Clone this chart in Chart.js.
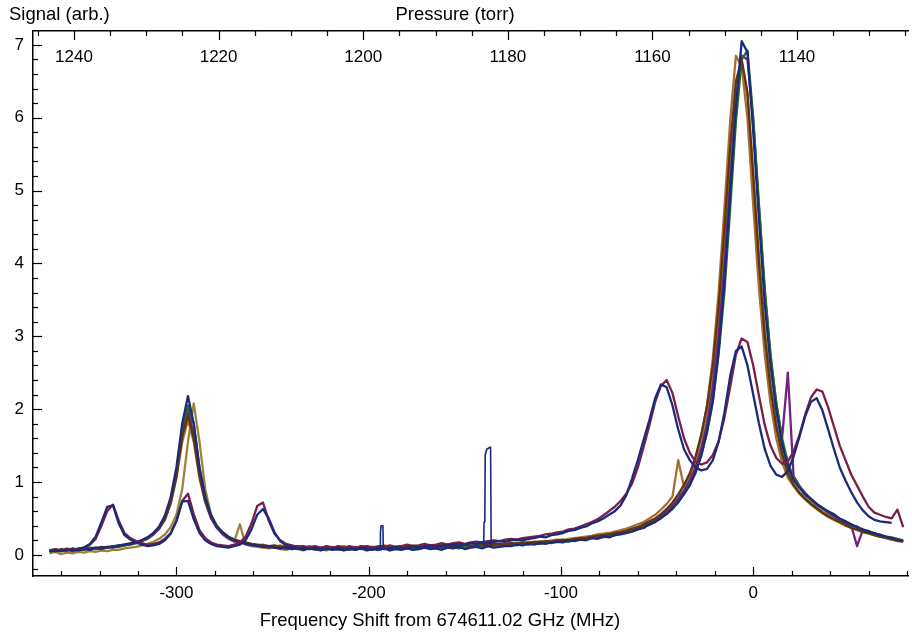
<!DOCTYPE html>
<html>
<head>
<meta charset="utf-8">
<script src="https://cdn.jsdelivr.net/npm/chart.js@4.4.1/dist/chart.umd.min.js"></script>
<style>
html, body { margin: 0; padding: 0; background: #fff; }
#caixa { width: 912px; height: 639px; }
</style>
</head>
<body>
<div id="caixa"><canvas id="grafEsp" width="912" height="639"></canvas></div>
<script>
// frequency grid (MHz from 674611.02 GHz)
const freq = [
  -366,-363,-360,-357,-354,-351,-348,-345,-342,-339,
  -336,-333,-330,-327,-324,-321,-318,-315,-312,-309,
  -306,-303,-300,-297,-294,-291,-288,-285,-282,-279,
  -276,-273,-270,-267,-264,-261,-258,-255,-252,-249,
  -246,-243,-240,-237,-234,-231,-228,-225,-222,-219,
  -216,-213,-210,-207,-204,-201,-198,-195,-192,-189,
  -186,-183,-180,-177,-174,-171,-168,-165,-162,-159,
  -156,-153,-150,-147,-144,-141,-138,-135,-132,-129,
  -126,-123,-120,-117,-114,-111,-108,-105,-102,-99,
  -96,-93,-90,-87,-84,-81,-78,-75,-72,-69,
  -66,-63,-60,-57,-54,-51,-48,-45,-42,-39,
  -36,-33,-30,-27,-24,-21,-18,-15,-12,-9,
  -6,-3,0,3,6,9,12,15,18,21,
  24,27,30,33,36,39,42,45,48,51,
  54,57,60,63,66,69,72,75,78
];

const navyA = [
  .05,.06,.05,.07,.06,.08,.10,.15,.25,.45,
  .66,.68,.43,.27,.21,.17,.14,.12,.13,.15,
  .20,.29,.47,.73,.74,.49,.30,.20,.15,.12,
  .11,.10,.12,.14,.20,.35,.55,.63,.50,.31,
  .19,.13,.11,.09,.10,.08,.10,.07,.09,.08,
  .10,.07,.09,.08,.10,.09,.07,.10,.08,.09,
  .11,.09,.10,.12,.10,.11,.13,.11,.12,.14,
  .13,.15,.14,.16,.15,.17,.16,.18,.19,.18,
  .20,.21,.20,.22,.23,.25,.24,.27,.28,.30,
  .33,.34,.37,.39,.43,.46,.50,.55,.60,.68,
  .82,1.05,1.30,1.58,1.85,2.15,2.34,2.30,2.05,1.72,
  1.45,1.30,1.20,1.16,1.18,1.30,1.55,1.95,2.45,2.80,
  2.86,2.60,2.20,1.80,1.45,1.22,1.10,1.07,1.15,1.35,
  1.62,1.90,2.10,2.15,1.98,1.72,1.45,1.20,1.02,.86,
  .72,.61,.53,.48,.46,.45,.44,null,null
];

const maroonA = [
  .06,.08,.06,.08,.07,.09,.10,.14,.22,.40,
  .60,.69,.47,.30,.23,.19,.16,.14,.15,.17,
  .22,.30,.46,.74,.84,.56,.34,.23,.17,.14,
  .13,.12,.14,.17,.25,.43,.67,.72,.47,.29,
  .20,.15,.13,.11,.12,.10,.11,.09,.12,.10,
  .11,.09,.12,.10,.11,.12,.10,.12,.11,.13,
  .11,.12,.14,.12,.13,.15,.13,.14,.16,.14,
  .16,.17,.15,.17,.18,.17,.19,.20,.19,.21,
  .22,.21,.23,.24,.25,.26,.28,.29,.31,.32,
  .35,.36,.39,.42,.45,.49,.54,.60,.66,.74,
  .84,.98,1.20,1.48,1.78,2.10,2.32,2.40,2.22,1.90,
  1.60,1.40,1.28,1.24,1.27,1.37,1.56,1.88,2.30,2.75,
  2.97,2.92,2.60,2.18,1.78,1.50,1.33,1.25,1.28,1.42,
  1.64,1.92,2.16,2.27,2.24,2.02,1.76,1.50,1.30,1.10,
  .95,.80,.66,.58,.55,.52,.50,.62,.38
];

const navyB = [
  .06,.05,.07,.06,.08,.06,.09,.07,.10,.09,
  .11,.10,.13,.14,.15,.17,.20,.24,.30,.39,
  .54,.79,1.20,1.80,2.18,1.80,1.20,.79,.54,.39,
  .30,.24,.20,.17,.15,.14,.13,.11,.12,.10,
  .09,.10,.08,.09,.07,.09,.08,.06,.09,.07,
  .08,.06,.08,.07,.09,.06,.08,.07,.09,.06,
  .08,.07,.09,.07,.08,.10,.08,.09,.07,.10,
  .09,.11,.08,.10,.11,.09,.12,.10,.11,.12,
  .12,.14,.13,.15,.14,.16,.15,.17,.18,.17,
  .20,.19,.21,.20,.23,.22,.25,.24,.27,.28,
  .30,.32,.35,.37,.42,.45,.51,.56,.64,.72,
  .84,.95,1.14,1.36,1.70,2.12,2.80,3.75,4.95,6.15,
  7.05,6.90,5.80,4.60,3.45,2.60,1.98,1.52,1.22,1.03,
  .92,.83,.77,.70,.64,.60,.55,.50,.46,.42,
  .38,.35,.32,.30,.27,.25,.23,.21,.19
];

const greenB = [
  .04,.06,.05,.07,.06,.08,.07,.09,.08,.10,
  .10,.11,.12,.13,.15,.16,.19,.23,.29,.38,
  .52,.75,1.15,1.72,2.05,1.80,1.18,.80,.55,.40,
  .31,.25,.21,.18,.16,.14,.13,.11,.12,.10,
  .11,.08,.10,.09,.11,.08,.10,.09,.07,.10,
  .08,.09,.07,.10,.08,.11,.08,.09,.10,.08,
  .10,.09,.11,.08,.10,.12,.09,.11,.10,.12,
  .11,.09,.12,.11,.13,.10,.12,.14,.12,.13,
  .15,.13,.15,.14,.16,.15,.17,.16,.18,.19,
  .18,.20,.22,.21,.23,.24,.24,.26,.27,.29,
  .31,.33,.35,.39,.41,.46,.50,.57,.63,.73,
  .83,.97,1.12,1.38,1.68,2.10,2.75,3.60,4.75,5.95,
  6.80,6.92,6.00,4.80,3.65,2.75,2.08,1.60,1.27,1.06,
  .94,.84,.76,.69,.65,.59,.56,.49,.46,.41,
  .39,.34,.33,.29,.28,.25,.24,.22,.20
];

const oliveB = [
  .02,.04,.01,.03,.02,.04,.03,.05,.04,.06,
  .05,.07,.07,.09,.10,.11,.13,.15,.18,.22,
  .28,.38,.55,.90,1.55,2.08,1.55,.90,.55,.38,
  .28,.22,.18,.42,.14,.12,.11,.10,.09,.10,
  .08,.07,.09,.08,.06,.09,.07,.08,.06,.09,
  .07,.08,.10,.07,.09,.08,.10,.07,.09,.08,
  .10,.08,.09,.11,.08,.10,.11,.09,.12,.10,
  .11,.12,.10,.13,.11,.12,.14,.12,.13,.15,
  .13,.14,.16,.15,.17,.16,.18,.17,.19,.20,
  .19,.21,.22,.22,.24,.25,.26,.27,.29,.30,
  .32,.35,.37,.40,.44,.48,.53,.60,.68,.78,
  .90,1.05,1.25,1.52,1.90,2.40,3.15,4.10,5.25,6.30,
  6.72,6.30,5.25,4.10,3.10,2.35,1.80,1.42,1.15,.98,
  .86,.80,.73,.66,.60,.55,.52,.47,.43,.39,
  .36,.33,.30,.27,.25,.23,.21,.20,.18
];

const brownB = [
  .07,.05,.08,.06,.09,.07,.08,.10,.09,.11,
  .10,.12,.13,.14,.16,.18,.20,.24,.29,.37,
  .50,.72,1.08,1.62,1.92,1.60,1.10,.74,.52,.39,
  .31,.25,.21,.19,.17,.15,.14,.13,.12,.13,
  .11,.12,.10,.12,.11,.09,.12,.10,.11,.09,
  .12,.10,.11,.09,.12,.10,.11,.10,.12,.09,
  .11,.12,.10,.12,.11,.13,.11,.12,.13,.11,
  .13,.12,.14,.12,.13,.15,.13,.14,.15,.14,
  .16,.15,.17,.16,.18,.17,.19,.18,.20,.21,
  .20,.22,.23,.23,.25,.26,.27,.28,.30,.31,
  .33,.36,.38,.42,.46,.50,.56,.63,.72,.83,
  .96,1.12,1.35,1.65,2.05,2.60,3.40,4.45,5.60,6.50,
  6.80,6.35,5.20,4.00,3.00,2.28,1.75,1.38,1.12,.96,
  .85,.77,.70,.64,.58,.53,.49,.45,.41,.37,
  .35,.32,.30,.27,.25,.24,.22,.20,.19
];

const orangeB = [
  .06,.08,.06,.09,.07,.08,.10,.08,.10,.09,
  .11,.12,.12,.14,.15,.17,.20,.23,.28,.36,
  .48,.70,1.05,1.55,1.85,1.55,1.05,.72,.51,.38,
  .30,.24,.20,.18,.16,.15,.13,.14,.12,.11,
  .13,.10,.12,.11,.10,.12,.11,.09,.12,.10,
  .11,.12,.10,.11,.10,.12,.10,.11,.13,.11,
  .10,.12,.11,.13,.12,.11,.13,.12,.14,.12,
  .13,.14,.12,.14,.13,.15,.14,.16,.14,.16,
  .15,.17,.16,.18,.17,.19,.18,.20,.21,.20,
  .22,.23,.24,.25,.26,.28,.29,.30,.32,.34,
  .36,.39,.42,.45,.50,.55,.62,.70,.80,1.30,
  .93,1.10,1.32,1.64,2.05,2.70,3.60,4.75,5.95,6.85,
  6.70,6.00,4.80,3.65,2.75,2.08,1.60,1.27,1.06,.94,
  .84,.76,.69,.63,.57,.52,.48,.44,.40,.37,
  .34,.31,.29,.27,.25,.23,.21,.19,.18
];

const purpleB = [
  .05,.07,.06,.08,.05,.07,.08,.07,.09,.08,
  .10,.11,.11,.13,.14,.16,.19,.22,.28,.36,
  .49,.72,1.10,1.65,1.98,1.65,1.10,.73,.50,.37,
  .29,.23,.19,.17,.15,.13,.12,.13,.10,.11,
  .09,.11,.08,.10,.09,.11,.08,.10,.09,.11,
  .10,.08,.11,.09,.10,.08,.11,.09,.10,.12,
  .09,.11,.10,.09,.12,.10,.11,.13,.10,.12,
  .11,.13,.12,.11,.14,.12,.13,.15,.13,.14,
  .16,.14,.16,.15,.17,.16,.18,.17,.19,.20,
  .20,.21,.22,.23,.24,.25,.26,.28,.29,.31,
  .33,.35,.38,.41,.44,.49,.54,.60,.68,.77,
  .88,1.02,1.20,1.45,1.80,2.30,3.00,3.95,5.10,6.20,
  6.85,6.80,5.95,4.75,3.60,2.72,2.08,1.60,2.50,1.08,
  .95,.85,.77,.70,.64,.58,.53,.48,.44,.40,
  .12,.34,.31,.28,.26,.24,.22,.20,.19
];

// two narrow glitches in the blue trace
const spikeFreq = [-194.1,-193.9,-193.6,-192.6,-192.4,-170,-140.2,-140.0,-139.6,-139.4,-138.6,-136.6,-136.3];
const spikeVal  = [0.08,0.30,0.40,0.40,0.08,null,0.10,0.45,0.47,1.37,1.45,1.48,0.10];

const presTicks = [1240, 1220, 1200, 1180, 1160, 1140];

const fonte = '"Liberation Sans", Arial, sans-serif';

function pts(xs, ys) {
  return xs.map(function(f, i) { return { x: f, y: ys[i] }; });
}

function linha(rot, xs, ys, cor, larg) {
  return {
    label: rot,
    data: pts(xs, ys),
    borderColor: cor,
    borderWidth: larg || 2.3,
    pointRadius: 0,
    tension: 0,
    spanGaps: false,
    borderJoinStyle: 'round',
    fill: false
  };
}

// inward tick marks, pressure labels inside the frame, axis titles
const marcas = {
  id: 'marcas',
  afterDraw(chart) {
    const ctx = chart.ctx, a = chart.chartArea;
    const sx = chart.scales.x, sy = chart.scales.y, sp = chart.scales.xp;
    ctx.save();
    ctx.strokeStyle = '#000';
    ctx.lineWidth = 1.2;
    function tr(x1, y1, x2, y2) {
      ctx.beginPath(); ctx.moveTo(x1, y1); ctx.lineTo(x2, y2); ctx.stroke();
    }
    for (let v = -360; v <= sx.max; v += 20) {
      const px = Math.round(sx.getPixelForValue(v)) + 0.5;
      tr(px, a.bottom, px, a.bottom - (v % 100 === 0 ? 9 : 5));
    }
    for (let i = -1; i <= 35; i++) {
      const py = Math.round(sy.getPixelForValue(i / 5)) + 0.5;
      tr(a.left, py, a.left + (i % 5 === 0 ? 9 : 5), py);
    }
    for (let p = 1245; p >= sp.min; p -= 5) {
      const px = Math.round(sp.getPixelForValue(p)) + 0.5;
      tr(px, a.top, px, a.top + (p % 20 === 0 ? 9 : 5));
    }
    ctx.fillStyle = '#000';
    ctx.textBaseline = 'middle';
    ctx.font = '17px ' + fonte;
    ctx.textAlign = 'center';
    presTicks.forEach(function(p) {
      ctx.fillText(String(p), sp.getPixelForValue(p), a.top + 26);
    });
    ctx.font = '18.5px ' + fonte;
    ctx.textAlign = 'left';
    ctx.fillText('Signal (arb.)', 9, 15);
    ctx.textAlign = 'center';
    ctx.fillText('Pressure (torr)', 455, 15);
    ctx.fillText('Frequency Shift from 674611.02 GHz (MHz)', 440, 621);
    ctx.restore();
  }
};

function iniGraf() {
  const ctx = document.getElementById('grafEsp').getContext('2d');
  const eixo = { display: true, color: '#000', width: 1.5 };
  window.gEsp = new Chart(ctx, {
    type: 'line',
    data: {
      datasets: [
        linha('glitch', spikeFreq, spikeVal, '#1c2a7c', 1.6),
        linha('A azul', freq, navyA, '#1c2a7c'),
        linha('A vinho', freq, maroonA, '#7c1f48'),
        linha('B azul', freq, navyB, '#1c2a7c'),
        linha('B marrom', freq, brownB, '#5e3510'),
        linha('B verde', freq, greenB, '#1f6e2c'),
        linha('B roxo', freq, purpleB, '#742080'),
        linha('B laranja', freq, orangeB, '#a86d33'),
        linha('B oliva', freq, oliveB, '#9a8536')
      ]
    },
    options: {
      responsive: false,
      maintainAspectRatio: false,
      animation: false,
      devicePixelRatio: 1,
      layout: { padding: { left: 0, right: 4, top: 0, bottom: 0 } },
      plugins: { legend: { display: false }, tooltip: { enabled: false } },
      scales: {
        x: {
          type: 'linear', position: 'bottom', min: -374.6, max: 80.5,
          afterFit: function(s) { s.height = 63; },
          grid: { display: false, drawTicks: false },
          border: eixo,
          ticks: { stepSize: 100, includeBounds: false, padding: 7, maxRotation: 0,
                   color: '#000', font: { family: fonte, size: 17 } }
        },
        xp: {
          type: 'linear', position: 'top', reverse: true, min: 1124.65, max: 1245.67,
          afterFit: function(s) { s.height = 31; },
          grid: { display: false, drawTicks: false },
          border: eixo,
          ticks: { display: false }
        },
        y: {
          type: 'linear', position: 'left', min: -0.29, max: 7.19,
          afterFit: function(s) { s.width = 33; },
          grid: { display: false, drawTicks: false },
          border: eixo,
          ticks: { stepSize: 1, includeBounds: false, padding: 9,
                   color: '#000', font: { family: fonte, size: 17 } }
        }
      }
    },
    plugins: [marcas]
  });
}

document.addEventListener('DOMContentLoaded', iniGraf);
</script>
</body>
</html>
